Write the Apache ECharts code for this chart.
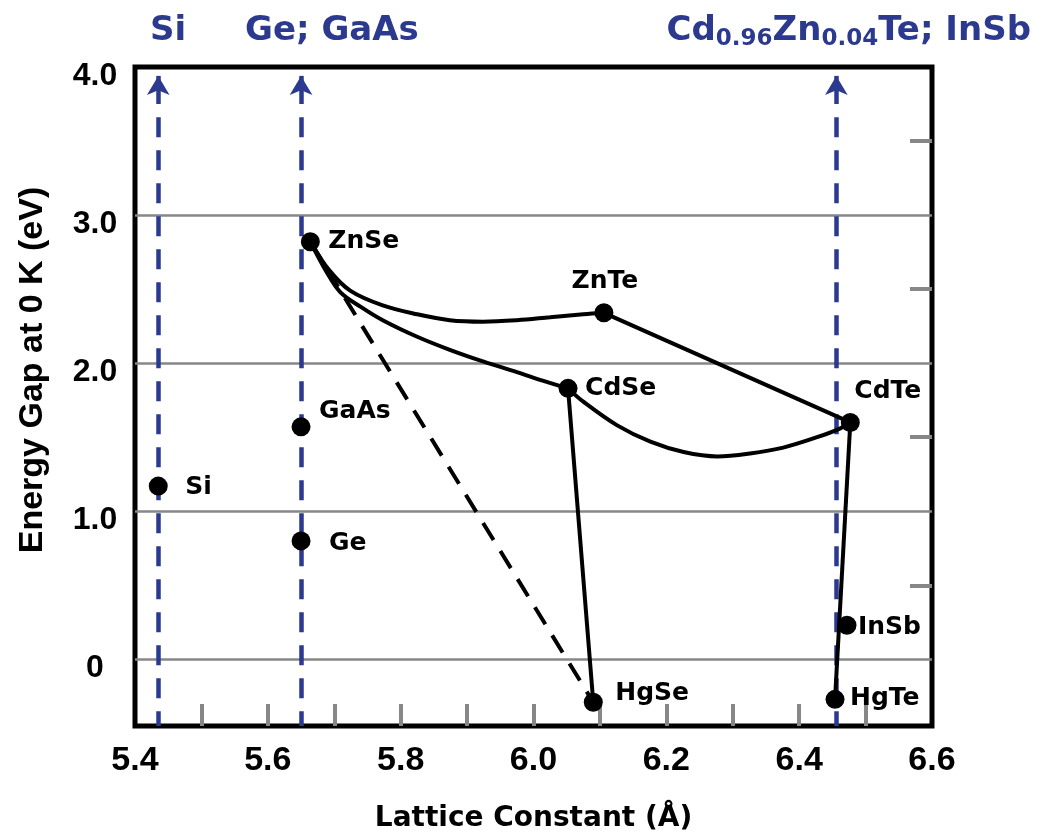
<!DOCTYPE html>
<html>
<head>
<meta charset="utf-8">
<script src="https://cdn.jsdelivr.net/npm/echarts@6/dist/echarts.min.js"></script>
<style>
  html, body { margin: 0; padding: 0; background: #fff; }
  #chart { width: 1039px; height: 836px; }
</style>
</head>
<body>
<div id="chart"></div>
<script>
// Compound semiconductors: lattice constant (Å) vs. band gap at 0 K (eV)
const compounds   = ['Si', 'Ge', 'GaAs', 'ZnSe', 'ZnTe', 'CdSe', 'CdTe', 'InSb', 'HgSe', 'HgTe'];
const latticeConst = [5.435, 5.650, 5.650, 5.664, 6.106, 6.052, 6.477, 6.472, 6.090, 6.454];
const energyGap    = [1.17, 0.80, 1.57, 2.82, 2.34, 1.83, 1.60, 0.23, -0.29, -0.27];

// Ternary alloy bowing curves, [lattice constant, gap]
const znSeZnTeCurve = [[5.664, 2.82], [5.692, 2.63], [5.724, 2.49], [5.773, 2.39], [5.825, 2.33],
  [5.874, 2.29], [5.924, 2.28], [5.975, 2.29], [6.025, 2.31], [6.075, 2.33], [6.106, 2.34]];
const znSeCdSeCurve = [[5.664, 2.82], [5.688, 2.62], [5.709, 2.48], [5.740, 2.38], [5.773, 2.29],
  [5.824, 2.18], [5.874, 2.09], [5.925, 2.01], [5.975, 1.94], [6.015, 1.88], [6.052, 1.83]];
const cdSeCdTeCurve = [[6.052, 1.83], [6.075, 1.74], [6.126, 1.58], [6.176, 1.47], [6.226, 1.40],
  [6.277, 1.37], [6.326, 1.39], [6.376, 1.43], [6.427, 1.50], [6.462, 1.56], [6.477, 1.60]];

// Straight tie lines between binaries (names from the list above)
const solidTies  = [['ZnTe', 'CdTe'], ['CdSe', 'HgSe'], ['CdTe', 'HgTe']];
const dashedTies = [['ZnSe', 'HgSe']];

// Substrate lattice constants marked with blue arrows
const substrateX = [5.435, 5.650, 6.456];

// Axis ticks / labels
const xMin = 5.4, xMax = 6.6, xStep = 0.2;
const xMinorTicks = [5.5, 5.6, 5.7, 5.8, 5.9, 6.0, 6.1, 6.2, 6.3, 6.4, 6.5];
const yMin = -0.45, yMax = 4.0;
const yLabelValues = [0, 1, 2, 3, 4];
const yGridValues = [0, 1, 2, 3];
const yRightTicks = [0.5, 1.5, 2.5, 3.5];

// Label placement around each marker: [dx, dy, align]
const labelOffsets = {
  Si: [27, 1, 'left'], Ge: [28, 3, 'left'], GaAs: [18, -15, 'left'],
  ZnSe: [18, 0, 'left'], ZnTe: [1, -31, 'center'], CdSe: [17, 0, 'left'],
  CdTe: [4, -31, 'left'], InSb: [11, 2, 'left'], HgSe: [22, -9, 'left'], HgTe: [15, -1, 'left']
};

const BLUE = '#2b3a8e';
const GREY = '#878787';
const SYMBOL = 19;

const pointOf = name => {
  const i = compounds.indexOf(name);
  return [latticeConst[i], energyGap[i]];
};

const blackLine = (data, extra) => Object.assign({
  type: 'line', data, showSymbol: false, symbol: 'none', silent: true, z: 5,
  lineStyle: { color: '#000', width: 4, opacity: 1 }
}, extra || {});

const series = [];

// grey horizontal grid lines
series.push({
  type: 'line', data: [], silent: true, z: 1,
  markLine: {
    silent: true, symbol: 'none', animation: false,
    label: { show: false },
    lineStyle: { color: GREY, width: 2.5, type: 'solid', opacity: 1 },
    data: yGridValues.map(v => ({ yAxis: v }))
  }
});

// blue substrate markers: solid arrow stub + dashed drop line
series.push({
  type: 'line', data: [], silent: true, z: 2,
  markLine: {
    silent: true, animation: false,
    symbol: ['arrow', 'none'], symbolSize: [17, 19],
    label: { show: false },
    lineStyle: { color: BLUE, width: 4.5, type: 'solid', opacity: 1 },
    data: substrateX.map(x => [{ coord: [x, 3.94] }, { coord: [x, 3.75] }])
  }
});
series.push({
  type: 'line', data: [], silent: true, z: 2,
  markLine: {
    silent: true, animation: false, symbol: 'none',
    label: { show: false },
    lineStyle: { color: BLUE, width: 4.5, type: [20, 13], opacity: 1 },
    data: substrateX.map(x => [{ coord: [x, 3.66] }, { coord: [x, yMin] }])
  }
});

// alloy curves
[znSeZnTeCurve, znSeCdSeCurve, cdSeCdTeCurve].forEach(c => series.push(blackLine(c, { smooth: 0.35 })));
solidTies.forEach(([a, b]) => series.push(blackLine([pointOf(a), pointOf(b)])));
dashedTies.forEach(([a, b]) => series.push(blackLine([pointOf(a), pointOf(b)], {
  lineStyle: { color: '#000', width: 4, type: [20, 13], opacity: 1 }
})));

// compound markers with labels
series.push({
  type: 'scatter', z: 10, symbolSize: SYMBOL, silent: true,
  itemStyle: { color: '#000', opacity: 1 },
  data: compounds.map((name, i) => {
    const [dx, dy, align] = labelOffsets[name];
    return {
      name, value: [latticeConst[i], energyGap[i]],
      label: {
        show: true, formatter: name,
        position: [SYMBOL / 2 + dx, SYMBOL / 2 + dy],
        align, verticalAlign: 'middle',
        fontFamily: 'DejaVu Sans', fontWeight: 'bold', fontSize: 25, color: '#000', opacity: 1
      }
    };
  })
});

const chart = echarts.init(document.getElementById('chart'), null, { renderer: 'canvas' });
chart.setOption({
  animation: false,
  backgroundColor: '#fff',
  grid: {
    left: 135, right: 107, top: 67, bottom: 110,
    outerBoundsMode: 'none',
    show: true, borderColor: '#000', borderWidth: 5, backgroundColor: 'transparent'
  },
  xAxis: {
    type: 'value', min: xMin, max: xMax, interval: xStep,
    name: 'Lattice Constant (Å)', nameLocation: 'middle', nameGap: 79,
    nameTextStyle: { fontFamily: 'DejaVu Sans', fontWeight: 'bold', fontSize: 28, color: '#000' },
    axisLine: { show: false, onZero: false },
    splitLine: { show: false },
    axisTick: {
      show: true, inside: true, length: 22, customValues: xMinorTicks,
      lineStyle: { color: GREY, width: 4 }
    },
    axisLabel: {
      formatter: v => v.toFixed(1), margin: 18,
      fontFamily: 'Liberation Sans', fontWeight: 'bold', fontSize: 34, color: '#000'
    }
  },
  yAxis: [{
    type: 'value', min: yMin, max: yMax,
    axisLine: { show: false, onZero: false }, axisTick: { show: false }, splitLine: { show: false },
    axisLabel: {
      customValues: yLabelValues,
      formatter: v => (v === 0 ? '0' : v.toFixed(1)),
      align: 'center', verticalAlign: 'top', lineHeight: 18, margin: 40,
      fontFamily: 'Liberation Sans', fontWeight: 'bold', fontSize: 32, color: '#000'
    }
  }, {
    type: 'value', min: yMin, max: yMax, position: 'right',
    axisLine: { show: false, onZero: false }, splitLine: { show: false },
    axisLabel: { show: false },
    axisTick: {
      show: true, inside: true, length: 22, customValues: yRightTicks,
      lineStyle: { color: GREY, width: 4 }
    }
  }],
  graphic: [
    {
      type: 'text', x: 33, y: 370, rotation: Math.PI / 2,
      style: {
        text: 'Energy Gap at 0 K (eV)', fill: '#000',
        font: 'bold 34px "Liberation Sans"', align: 'center', verticalAlign: 'middle'
      }
    },
    {
      type: 'text', x: 150, y: 31,
      style: { text: 'Si', fill: BLUE, font: 'bold 34px "DejaVu Sans"', align: 'left', verticalAlign: 'middle' }
    },
    {
      type: 'text', x: 245, y: 31,
      style: { text: 'Ge; GaAs', fill: BLUE, font: 'bold 34px "DejaVu Sans"', align: 'left', verticalAlign: 'middle' }
    },
    {
      type: 'text', x: 1031, y: 31,
      style: {
        text: '{m|Cd}{s|0.96}{m|Zn}{s|0.04}{m|Te; InSb}',
        align: 'right', verticalAlign: 'middle',
        rich: {
          m: { fill: BLUE, fontFamily: 'DejaVu Sans', fontWeight: 'bold', fontSize: 34, lineHeight: 40, verticalAlign: 'middle' },
          s: { fill: BLUE, fontFamily: 'DejaVu Sans', fontWeight: 'bold', fontSize: 23, lineHeight: 16, verticalAlign: 'bottom' }
        }
      }
    }
  ],
  series
});
</script>
</body>
</html>
